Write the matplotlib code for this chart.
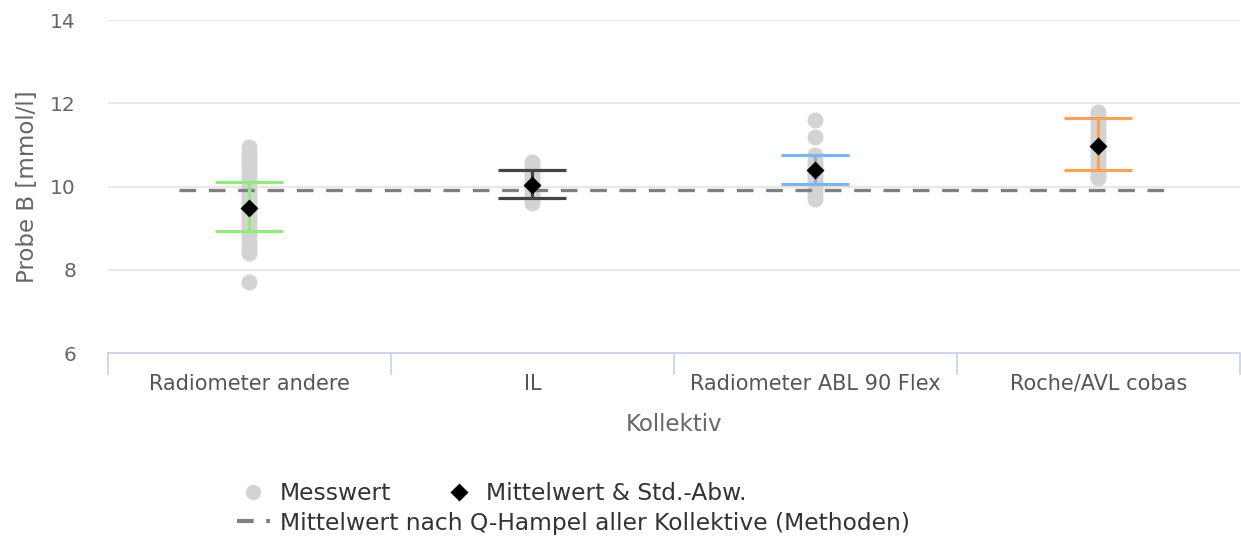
import numpy as np
import matplotlib
matplotlib.use("Agg")
import matplotlib.pyplot as plt
from matplotlib.lines import Line2D

categories = ["Radiometer andere", "IL", "Radiometer ABL 90 Flex", "Roche/AVL cobas"]
colors = ["#90ed7d", "#434348", "#7cb5ec", "#f7a35c"]

values = [
    [7.7, 8.4, 8.5, 8.6, 8.7, 8.8, 8.9, 9.0, 9.1, 9.2, 9.3, 9.4, 9.5, 9.6, 9.7,
     9.8, 9.9, 10.0, 10.1, 10.2, 10.3, 10.4, 10.5, 10.6, 10.7, 10.8, 10.95],
    [9.6, 9.7, 9.8, 9.9, 10.0, 10.1, 10.2, 10.3, 10.4, 10.5, 10.6],
    [9.7, 9.8, 9.9, 10.0, 10.1, 10.2, 10.3, 10.4, 10.5, 10.6, 10.75, 11.2, 11.6],
    [10.2, 10.3, 10.4, 10.5, 10.6, 10.7, 10.8, 10.9, 11.0, 11.1, 11.2, 11.3,
     11.4, 11.5, 11.6, 11.7, 11.8],
]
means = [9.49, 10.03, 10.4, 10.97]
sd_low = [8.92, 9.72, 10.07, 10.4]
sd_high = [10.12, 10.4, 10.75, 11.65]
hampel = 9.92

grid_c = "#e6e6e6"
axis_c = "#ccd6eb"
text_c = "#666666"

fig = plt.figure(figsize=(12.41, 5.41), dpi=100)
ax = fig.add_axes([0.087, 0.3475, 0.912, 0.6155])

x = np.arange(len(categories))

for i, vals in enumerate(values):
    ax.plot([x[i]] * len(vals), vals, "o", ms=11.5, color="#d3d3d3", mec="none", zorder=2)

ax.plot([-0.25, 3.25], [hampel, hampel], color="#808080", lw=2.4, dashes=(5, 3.8), zorder=3)

for i in range(len(categories)):
    ax.vlines(x[i], sd_low[i], sd_high[i], color=colors[i], lw=2.3, zorder=4)
    ax.hlines([sd_low[i], sd_high[i]], x[i] - 0.12, x[i] + 0.12, color=colors[i], lw=2.3, zorder=4)

ax.plot(x, means, "D", ms=9.5, color="black", mec="none", zorder=5)

ax.set_xlim(-0.5, 3.5)
ax.set_ylim(6, 14)
ax.set_yticks([6, 8, 10, 12, 14])
ax.yaxis.grid(True, color=grid_c, lw=1.3)
ax.set_axisbelow(True)
for s in ["top", "right", "left"]:
    ax.spines[s].set_visible(False)
ax.spines["bottom"].set_color(axis_c)
ax.spines["bottom"].set_linewidth(1.3)
ax.tick_params(axis="y", length=0, labelsize=14.5, labelcolor=text_c, pad=23)
ax.set_xticks(np.arange(-0.5, 4, 1))
ax.set_xticklabels([])
ax.tick_params(axis="x", length=16, width=1.3, color=axis_c)
for i, c in enumerate(categories):
    ax.text(x[i], -0.093, c, transform=ax.get_xaxis_transform(), ha="center", va="center",
            fontsize=15, color="#555555")
ax.text(1.5, -0.215, "Kollektiv", transform=ax.get_xaxis_transform(), ha="center", va="center",
        fontsize=16.5, color=text_c)
ax.set_ylabel("Probe B [mmol/l]", fontsize=16.5, color=text_c, labelpad=8)

h1 = Line2D([], [], ls="none", marker="o", ms=11, color="#d3d3d3", mec="none")
h2 = Line2D([], [], ls="none", marker="D", ms=9, color="black", mec="none")
h3 = Line2D([], [], color="#808080", lw=3, dashes=(4, 3))
leg_kw = dict(frameon=False, loc="center left", fontsize=16.8, handlelength=1.4,
              handletextpad=0.45, borderpad=0, borderaxespad=0, labelcolor="#333333")
leg1 = fig.legend([h1, h2], ["Messwert", "Mittelwert & Std.-Abw."], ncol=2,
                  bbox_to_anchor=(0.191, 0.088), columnspacing=2.2, **leg_kw)
leg2 = fig.legend([h3], ["Mittelwert nach Q-Hampel aller Kollektive (Methoden)"],
                  bbox_to_anchor=(0.191, 0.033), **leg_kw)

fig.savefig("out.png", dpi=100)
